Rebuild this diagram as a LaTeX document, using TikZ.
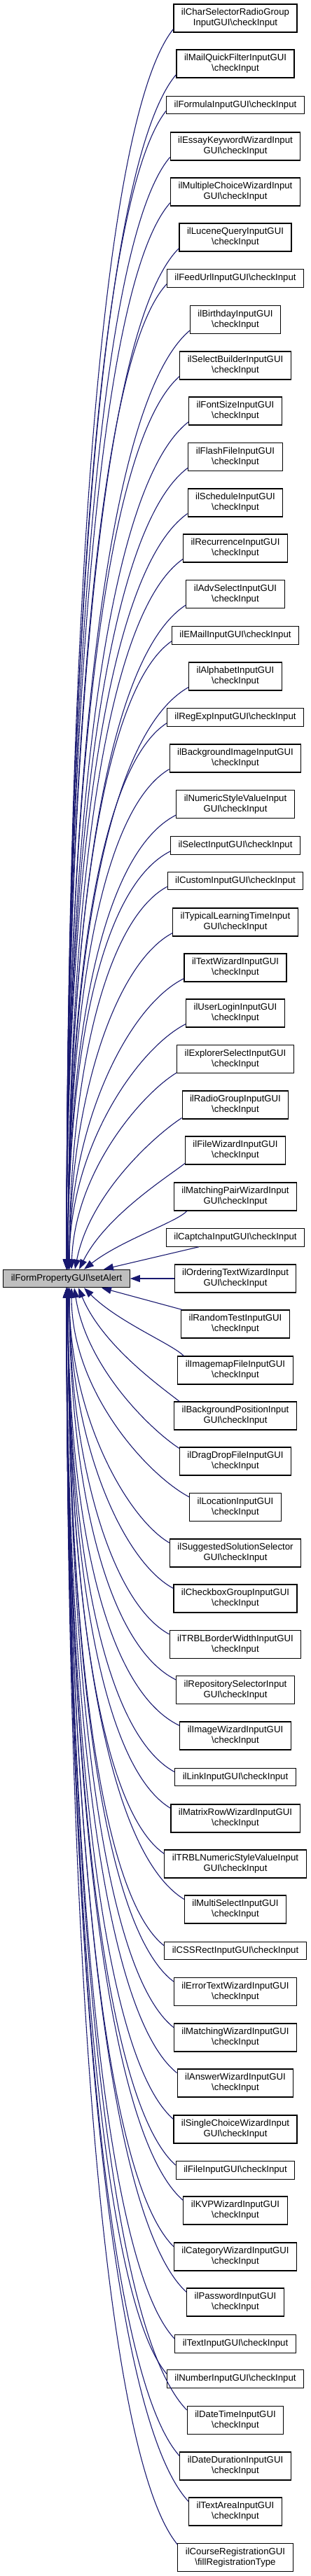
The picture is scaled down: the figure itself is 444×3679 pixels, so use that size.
\documentclass[tikz,border=0pt]{standalone}
\usepackage{fontspec}
\setmainfont{Liberation Sans}
\usetikzlibrary{arrows.meta,calc}
\definecolor{edgeblue}{RGB}{25,25,112}
\definecolor{maingray}{RGB}{191,191,191}
\newcommand{\bsl}{\textbackslash}
\newcommand{\upedge}[2]{\draw[calledge] let \p1=(#1), \p2=($(main.north)+(#2,0)$) in (\p1) .. controls ({\x1-0.7*((\x1)-(\x2))*min(1,((\y1)-(\y2))/600)}, {\y1-0.07*((\y1)-(\y2))-10pt}) and ({\x2+0.5*((\x1)-(\x2))*max(0,1-((\y1)-(\y2))/300)}, {\y2+0.5*((\y1)-(\y2))}) .. (\p2);}
\newcommand{\downedge}[2]{\draw[calledge] let \p1=(#1), \p2=($(main.south)+(#2,0)$) in (\p1) .. controls ({\x1-0.7*((\x1)-(\x2))*min(1,((\y2)-(\y1))/600)}, {\y1+0.07*((\y2)-(\y1))+10pt}) and ({\x2+0.5*((\x1)-(\x2))*max(0,1-((\y2)-(\y1))/300)}, {\y2-0.5*((\y2)-(\y1))}) .. (\p2);}
\tikzset{
  box/.style={draw=black, line width=1.1pt, fill=white, font=\fontsize{13.2}{15}\selectfont, align=center, inner xsep=11pt, inner ysep=0pt},
  two/.style={box, minimum height=40pt},
  one/.style={box, minimum height=25.5pt},
  calledge/.style={draw=edgeblue, line width=1.1pt, -{Triangle[length=14pt,width=10pt]}}
}
\begin{document}
\begin{tikzpicture}[x=1pt,y=-1pt]
\useasboundingbox (0,0) rectangle (444,3679);
\node[one, fill=maingray] (main) at (95,1826) {ilFormPropertyGUI\bsl setAlert};
\node[two] (c1) at (336,26) {ilCharSelectorRadioGroup\\InputGUI\bsl checkInput};
\node[two] (c2) at (336,91) {ilMailQuickFilterInputGUI\\\bsl checkInput};
\node[one] (c3) at (336,150) {ilFormulaInputGUI\bsl checkInput};
\node[two] (c4) at (336,209) {ilEssayKeywordWizardInput\\GUI\bsl checkInput};
\node[two] (c5) at (336,274) {ilMultipleChoiceWizardInput\\GUI\bsl checkInput};
\node[two] (c6) at (336,339) {ilLuceneQueryInputGUI\\\bsl checkInput};
\node[one] (c7) at (336,397.5) {ilFeedUrlInputGUI\bsl checkInput};
\node[two] (c8) at (336,456.5) {ilBirthdayInputGUI\\\bsl checkInput};
\node[two] (c9) at (336,522) {ilSelectBuilderInputGUI\\\bsl checkInput};
\node[two] (c10) at (336,587) {ilFontSizeInputGUI\\\bsl checkInput};
\node[two] (c11) at (336,652.5) {ilFlashFileInputGUI\\\bsl checkInput};
\node[two] (c12) at (336,718) {ilScheduleInputGUI\\\bsl checkInput};
\node[two] (c13) at (336,783) {ilRecurrenceInputGUI\\\bsl checkInput};
\node[two] (c14) at (336,848.5) {ilAdvSelectInputGUI\\\bsl checkInput};
\node[one] (c15) at (336,907.5) {ilEMailInputGUI\bsl checkInput};
\node[two] (c16) at (336,966) {ilAlphabetInputGUI\\\bsl checkInput};
\node[one] (c17) at (336,1024.5) {ilRegExpInputGUI\bsl checkInput};
\node[two] (c18) at (336,1083) {ilBackgroundImageInputGUI\\\bsl checkInput};
\node[two] (c19) at (336,1148.5) {ilNumericStyleValueInput\\GUI\bsl checkInput};
\node[one] (c20) at (336,1207.5) {ilSelectInputGUI\bsl checkInput};
\node[one] (c21) at (336,1258) {ilCustomInputGUI\bsl checkInput};
\node[two] (c22) at (336,1317) {ilTypicalLearningTimeInput\\GUI\bsl checkInput};
\node[two] (c23) at (336,1382) {ilTextWizardInputGUI\\\bsl checkInput};
\node[two] (c24) at (336,1447) {ilUserLoginInputGUI\\\bsl checkInput};
\node[two] (c25) at (336,1512.5) {ilExplorerSelectInputGUI\\\bsl checkInput};
\node[two] (c26) at (336,1578) {ilRadioGroupInputGUI\\\bsl checkInput};
\node[two] (c27) at (336,1643) {ilFileWizardInputGUI\\\bsl checkInput};
\node[two] (c28) at (336,1709) {ilMatchingPairWizardInput\\GUI\bsl checkInput};
\node[one] (c29) at (336,1767.5) {ilCaptchaInputGUI\bsl checkInput};
\node[two] (c30) at (336,1826) {ilOrderingTextWizardInput\\GUI\bsl checkInput};
\node[two] (c31) at (336,1891) {ilRandomTestInputGUI\\\bsl checkInput};
\node[two] (c32) at (336,1957) {ilImagemapFileInputGUI\\\bsl checkInput};
\node[two] (c33) at (336,2022) {ilBackgroundPositionInput\\GUI\bsl checkInput};
\node[two] (c34) at (336,2087) {ilDragDropFileInputGUI\\\bsl checkInput};
\node[two] (c35) at (336,2152.5) {ilLocationInputGUI\\\bsl checkInput};
\node[two] (c36) at (336,2218) {ilSuggestedSolutionSelector\\GUI\bsl checkInput};
\node[two] (c37) at (336,2283) {ilCheckboxGroupInputGUI\\\bsl checkInput};
\node[two] (c38) at (336,2348.5) {ilTRBLBorderWidthInputGUI\\\bsl checkInput};
\node[two] (c39) at (336,2413.5) {ilRepositorySelectorInput\\GUI\bsl checkInput};
\node[two] (c40) at (336,2479) {ilImageWizardInputGUI\\\bsl checkInput};
\node[one] (c41) at (336,2538) {ilLinkInputGUI\bsl checkInput};
\node[two] (c42) at (336,2597) {ilMatrixRowWizardInputGUI\\\bsl checkInput};
\node[two] (c43) at (336,2662) {ilTRBLNumericStyleValueInput\\GUI\bsl checkInput};
\node[two] (c44) at (336,2727) {ilMultiSelectInputGUI\\\bsl checkInput};
\node[one] (c45) at (336,2786) {ilCSSRectInputGUI\bsl checkInput};
\node[two] (c46) at (336,2844.5) {ilErrorTextWizardInputGUI\\\bsl checkInput};
\node[two] (c47) at (336,2910) {ilMatchingWizardInputGUI\\\bsl checkInput};
\node[two] (c48) at (336,2975) {ilAnswerWizardInputGUI\\\bsl checkInput};
\node[two] (c49) at (336,3041) {ilSingleChoiceWizardInput\\GUI\bsl checkInput};
\node[one] (c50) at (336,3099.5) {ilFileInputGUI\bsl checkInput};
\node[two] (c51) at (336,3157) {ilKVPWizardInputGUI\\\bsl checkInput};
\node[two] (c52) at (336,3223) {ilCategoryWizardInputGUI\\\bsl checkInput};
\node[two] (c53) at (336,3288) {ilPasswordInputGUI\\\bsl checkInput};
\node[one] (c54) at (336,3347.5) {ilTextInputGUI\bsl checkInput};
\node[one] (c55) at (336,3397.5) {ilNumberInputGUI\bsl checkInput};
\node[two] (c56) at (336,3456.5) {ilDateTimeInputGUI\\\bsl checkInput};
\node[two] (c57) at (336,3522) {ilDateDurationInputGUI\\\bsl checkInput};
\node[two] (c58) at (336,3587) {ilTextAreaInputGUI\\\bsl checkInput};
\node[two] (c59) at (336,3652.5) {ilCourseRegistrationGUI\\\bsl fillRegistrationType};
% edges from callers above
\foreach \k in {1,...,12} {\upedge{$(c\k.south west)+(0,-5)$}{0}}
\foreach \k in {13,...,20} {\upedge{$(c\k.south west)+(0,-5)$}{2}}
\foreach \k in {21,...,24} {\upedge{$(c\k.south west)+(0,-5)$}{4}}
\upedge{$(c25.south west)+(0,-1)$}{7}
\upedge{$(c26.south west)+(0,-2)$}{12}
\upedge{$(c27.south west)+(0,-2)$}{18}
\upedge{$(c28.south west)+(19,0)$}{25}
\draw[calledge] ($(c29.south west)+(47,0)$) -- ($(main.north)+(53,0)$);
\draw[calledge] (c30) -- (main);
% edges from callers below
\draw[calledge] ($(c31.north west)+(2,0)$) -- ($(main.south)+(50,0)$);
\downedge{$(c32.north west)+(9,0)$}{25}
\downedge{$(c33.north west)+(8,0)$}{17}
\downedge{$(c34.north west)+(0,2)$}{11}
\downedge{$(c35.north west)+(0,6)$}{7}
\foreach \k in {36,...,39} {\downedge{$(c\k.north west)+(0,6)$}{4}}
\foreach \k in {40,...,47} {\downedge{$(c\k.north west)+(0,6)$}{2}}
\foreach \k in {48,...,58} {\downedge{$(c\k.north west)+(0,6)$}{0}}
\downedge{$(c59.north west)+(0,2)$}{0}
\end{tikzpicture}
\end{document}
